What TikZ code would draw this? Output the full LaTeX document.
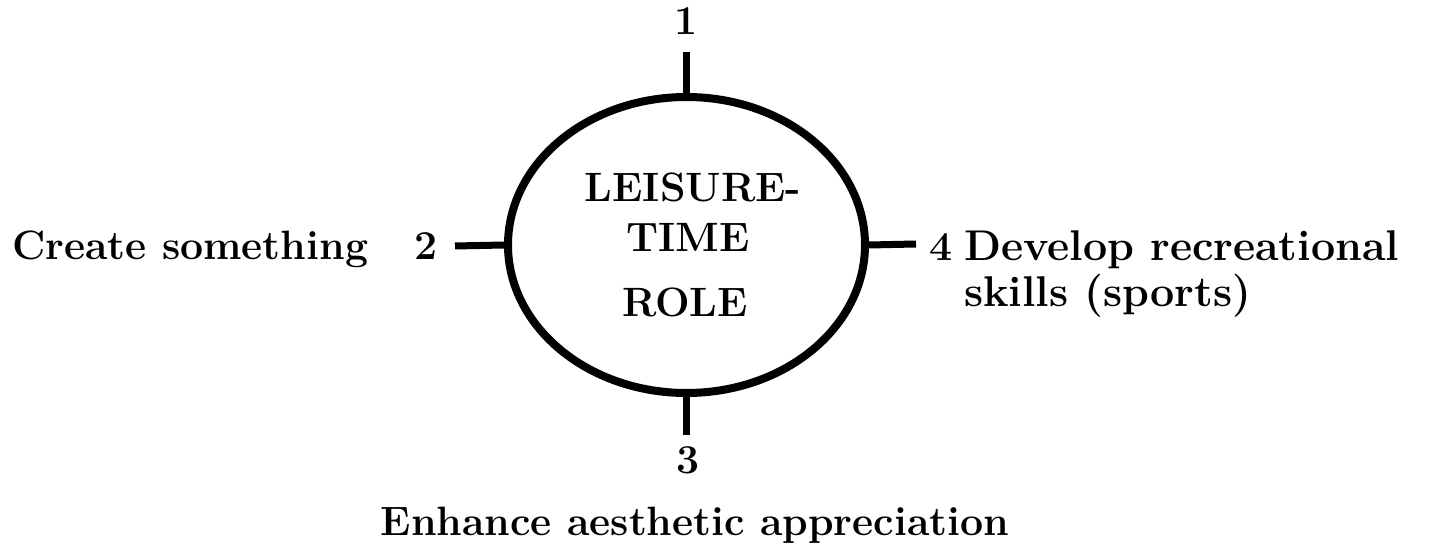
\documentclass[tikz,border=0pt]{standalone}
\usepackage{fontspec}
\usetikzlibrary{shapes.geometric}
\tikzset{
  lbl/.style={font=\fontsize{41}{48}\selectfont\bfseries, inner sep=0pt},
  widelbl/.style={font=\fontsize{43}{50}\selectfont\bfseries, inner sep=0pt},
  tickline/.style={line width=7pt},
  rolebox/.style={draw, ellipse, line width=8pt, minimum width=357pt, minimum height=296pt, inner sep=0pt}
}
\begin{document}
\begin{tikzpicture}[x=1pt,y=-1pt]
\useasboundingbox (0,0) rectangle (1441,545);
\node[rolebox] (c) at (686.5,245) {};
\node[lbl, anchor=base] (t1) at (693,202) {LEISURE-};
\node[lbl, anchor=base] (t2) at (688,252) {TIME};
\node[lbl, anchor=base] (t3) at (685,317) {ROLE};
% end points of the ticks
\coordinate (e1) at (686.5,52);
\coordinate (e2) at (455,246);
\coordinate (e3) at (686.5,435);
\coordinate (e4) at (916,244);
\draw[tickline] (c.north) -- (e1);
\draw[tickline] (c.west) -- (e2);
\draw[tickline] (c.south) -- (e3);
\draw[tickline] (c.east) -- (e4);
% labels
\node[lbl, anchor=base] (n1) at (686,35) {1};
\node[lbl, anchor=base] (n2) at (426,260) {2};
\node[lbl, anchor=base west] (l2) at (12,260) {Create something};
\node[lbl, anchor=base] (n4) at (941,261) {4};
\node[widelbl, anchor=base west] (l4a) at (964,261) {Develop recreational};
\node[widelbl, anchor=base west] (l4b) at (964,307) {skills (sports)};
\node[lbl, anchor=base] (n3) at (688,473) {3};
\node[lbl, anchor=base] (l3) at (695,535) {Enhance aesthetic appreciation};
\end{tikzpicture}
\end{document}
